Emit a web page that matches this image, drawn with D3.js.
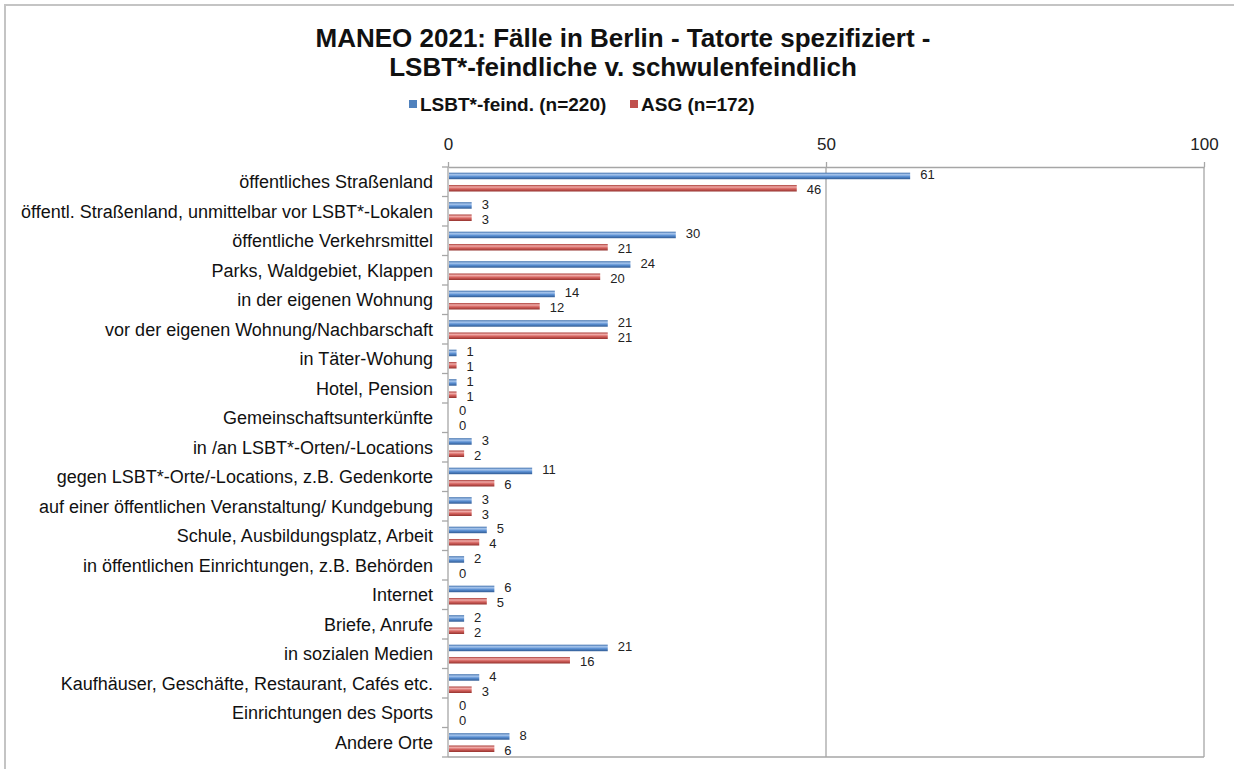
<!DOCTYPE html>
<html>
<head>
<meta charset="utf-8">
<script src="https://cdn.jsdelivr.net/npm/d3@7"></script>
<style>
  body { margin: 0; background: #fff; }
  svg { display: block; font-family: "Liberation Sans", Arial, sans-serif; }
</style>
</head>
<body>
<svg id="chart" width="1234" height="769"></svg>
<script>
// Tatorte (places of the offence), top to bottom
const categories = [
  "öffentliches Straßenland",
  "öffentl. Straßenland, unmittelbar vor LSBT*-Lokalen",
  "öffentliche Verkehrsmittel",
  "Parks, Waldgebiet, Klappen",
  "in der eigenen Wohnung",
  "vor der eigenen Wohnung/Nachbarschaft ",
  "in Täter-Wohung",
  "Hotel, Pension",
  "Gemeinschaftsunterkünfte",
  "in /an LSBT*-Orten/-Locations",
  "gegen LSBT*-Orte/-Locations, z.B. Gedenkorte",
  "auf einer öffentlichen Veranstaltung/ Kundgebung",
  "Schule, Ausbildungsplatz, Arbeit",
  "in öffentlichen Einrichtungen, z.B. Behörden",
  "Internet",
  "Briefe, Anrufe",
  "in sozialen Medien",
  "Kaufhäuser, Geschäfte, Restaurant, Cafés etc.",
  "Einrichtungen des Sports",
  "Andere Orte"
];

const seriesNames = ["LSBT*-feind. (n=220)", "ASG (n=172)"];
const lsbtValues = [61, 3, 30, 24, 14, 21, 1, 1, 0, 3, 11, 3, 5, 2, 6, 2, 21, 4, 0, 8];
const asgValues  = [46, 3, 21, 20, 12, 21, 1, 1, 0, 2, 6, 3, 4, 0, 5, 2, 16, 3, 0, 6];
const axisTicks = [0, 50, 100];

const titleLines = [
  "MANEO 2021: Fälle in Berlin - Tatorte spezifiziert -",
  "LSBT*-feindliche v. schwulenfeindlich"
];

const svg = d3.select("#chart");

// outer frame of the chart object
svg.append("rect")
  .attr("x", 5).attr("y", 5).attr("width", 1300).attr("height", 900)
  .attr("fill", "none").attr("stroke", "#c4c4c4").attr("stroke-width", 2);

// bar gradients (shaded, cylinder-like look)
const defs = svg.append("defs");
function gradient(id, stops) {
  const g = defs.append("linearGradient").attr("id", id)
    .attr("x1", 0).attr("y1", 0).attr("x2", 0).attr("y2", 1);
  stops.forEach(([o, c]) => g.append("stop").attr("offset", o).attr("stop-color", c));
}
gradient("gBlue", [[0, "#3d6eab"], [0.3, "#a9c7ee"], [0.6, "#5a8fd2"], [1, "#2f5a93"]]);
gradient("gRed",  [[0, "#ab403c"], [0.3, "#f0aaa7"], [0.6, "#d4625e"], [1, "#94322e"]]);
const fills = ["url(#gBlue)", "url(#gRed)"];
const swatch = ["#4f81bd", "#c0504d"];

const x = d3.scaleLinear().domain([0, 100]).range([448, 1204]);
const y = d3.scaleBand().domain(categories).range([167, 757]);
const inner = d3.scaleBand().domain([0, 1]).range([5.7, 24.5]).paddingInner(0.47);

const plotTop = 167, plotBottom = 757;
const gridColor = "#a6a6a6";

// vertical gridlines and plot frame lines
svg.append("g").selectAll("line")
  .data(axisTicks.filter(t => t > 0))
  .join("line")
  .attr("x1", d => x(d)).attr("x2", d => x(d))
  .attr("y1", plotTop).attr("y2", plotBottom)
  .attr("stroke", gridColor).attr("stroke-width", 1.3);

svg.append("line")
  .attr("x1", x(0)).attr("x2", x(100))
  .attr("y1", plotBottom).attr("y2", plotBottom)
  .attr("stroke", gridColor).attr("stroke-width", 1.3);

// value axis on top
const xAxis = svg.append("g")
  .attr("transform", `translate(0,${plotTop})`)
  .call(d3.axisTop(x).tickValues(axisTicks).tickSize(5).tickSizeOuter(0).tickPadding(12));
xAxis.select(".domain").attr("stroke", gridColor).attr("stroke-width", 1.3);
xAxis.selectAll(".tick line").attr("stroke", gridColor).attr("stroke-width", 1.3);
xAxis.selectAll(".tick text")
  .attr("font-family", "Liberation Sans, Arial, sans-serif")
  .attr("font-size", 17).attr("fill", "#222");

// category axis
svg.append("line")
  .attr("x1", x(0)).attr("x2", x(0))
  .attr("y1", plotTop).attr("y2", plotBottom)
  .attr("stroke", gridColor).attr("stroke-width", 1.3);

const boundaries = categories.map(c => y(c)).concat([plotBottom]);
svg.append("g").selectAll("line")
  .data(boundaries)
  .join("line")
  .attr("x1", x(0) - 6).attr("x2", x(0))
  .attr("y1", d => d).attr("y2", d => d)
  .attr("stroke", gridColor).attr("stroke-width", 1.3);

svg.append("g").selectAll("text")
  .data(categories)
  .join("text")
  .attr("x", 433)
  .attr("y", d => y(d) + y.bandwidth() / 2)
  .attr("dy", "0.35em")
  .attr("text-anchor", "end")
  .attr("font-size", 18)
  .attr("fill", "#111")
  .text(d => d);

// bars
const rows = categories.map((c, i) => ({ c, vals: [lsbtValues[i], asgValues[i]] }));
const barData = rows.flatMap(r => r.vals.map((v, s) => ({ c: r.c, v, s })));

svg.append("g").selectAll("rect")
  .data(barData.filter(d => d.v > 0))
  .join("rect")
  .attr("x", x(0) + 1)
  .attr("y", d => y(d.c) + inner(d.s))
  .attr("width", d => x(d.v) - x(0))
  .attr("height", inner.bandwidth())
  .attr("fill", d => fills[d.s]);

// value labels (blue one nudged up, red one nudged down so they stay apart)
svg.append("g").selectAll("text")
  .data(barData)
  .join("text")
  .attr("x", d => x(d.v) + 11)
  .attr("y", d => y(d.c) + inner(d.s) + inner.bandwidth() / 2 + (d.s === 0 ? -1.3 : 1.3))
  .attr("dy", "0.35em")
  .attr("font-size", 13)
  .attr("fill", "#222")
  .text(d => d.v);

// title
svg.append("g").selectAll("text")
  .data(titleLines)
  .join("text")
  .attr("x", 623)
  .attr("y", (d, i) => 47 + i * 29)
  .attr("text-anchor", "middle")
  .attr("font-size", 26)
  .attr("font-weight", "bold")
  .attr("fill", "#111")
  .text(d => d);

// legend
const legendX = [409, 630];
const legend = svg.append("g").selectAll("g")
  .data(seriesNames)
  .join("g")
  .attr("transform", (d, i) => `translate(${legendX[i]},104)`);
legend.append("rect")
  .attr("x", 0).attr("y", -4).attr("width", 8).attr("height", 8)
  .attr("fill", (d, i) => swatch[i]);
legend.append("text")
  .attr("x", 11).attr("y", 0).attr("dy", "0.35em")
  .attr("font-size", 19).attr("font-weight", "bold").attr("fill", "#111")
  .text(d => d);
</script>
</body>
</html>
